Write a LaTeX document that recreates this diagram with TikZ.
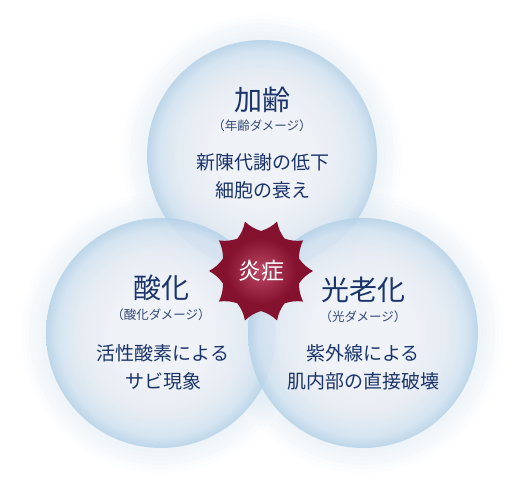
\documentclass[tikz,border=0pt]{standalone}
\usepackage{fontspec}
\usepackage{color}
\newfontfamily\jpfont{Noto Sans CJK JP}
\usetikzlibrary{positioning}
\definecolor{navy}{RGB}{27,52,106}
\definecolor{subnavy}{RGB}{52,74,118}
\definecolor{bubin}{RGB}{240,242,247}
\definecolor{bubmid}{RGB}{229,235,243}
\definecolor{bubrim}{RGB}{210,226,240}
\definecolor{bubout}{RGB}{180,209,231}
\definecolor{glow}{RGB}{196,216,232}
\definecolor{redin}{RGB}{186,72,102}
\definecolor{redout}{RGB}{132,18,46}
\pgfdeclareradialshading{bubble}{\pgfpoint{0bp}{0bp}}{color(0bp)=(bubin); color(11bp)=(bubin); color(18bp)=(bubmid); color(22.5bp)=(bubrim); color(25bp)=(bubout); color(50bp)=(bubout)}
\pgfdeclareradialshading{flare}{\pgfpoint{0bp}{0bp}}{color(0bp)=(redin); color(17bp)=(redout); color(50bp)=(redout)}

\begin{document}
\begin{tikzpicture}[x=1pt,y=-1pt,
    bubblenode/.style={circle,minimum size=230pt,inner sep=0pt,shade,shading=bubble,fill opacity=0.85},
    title/.style={font=\jpfont\fontsize{28}{30}\selectfont,text=navy,inner sep=0pt},
    subtitle/.style={font=\jpfont\fontsize{12.5}{14}\selectfont,text=subnavy,inner sep=0pt},
    body/.style={font=\jpfont\fontsize{19}{28}\selectfont,text=navy,align=center,inner sep=0pt}]
    \useasboundingbox (0,0) rectangle (524,503);
    \foreach \cx/\cy in {262/155,161/333,363/333}
        \foreach \r in {140,136,...,116}
            \fill[glow,opacity=0.05] (\cx,\cy) circle (\r);
    \node[bubblenode] (aging) at (262,155) {};
    \node[bubblenode] (oxid) at (161,333) {};
    \node[bubblenode] (photo) at (363,333) {};
    \begin{scope}[shift={(261,271)}]
        \shade[shading=flare] (0:52) \foreach \k in {0,...,9}{
            to[bend right=12] ({36*\k+18}:40) to[bend right=12] ({36*\k+36}:52)} -- cycle;
    \end{scope}
    \node[font=\jpfont\fontsize{23}{25}\selectfont,text=white,inner sep=0pt] (inflam) at (261,271) {炎症};
    \node[title] (agingtitle) at (262,100) {加齢};
    \node[subtitle] (agingsub) at (262,126) {（年齢ダメージ）};
    \node[body] (agingbody) at (263,176) {新陳代謝の低下\\細胞の衰え};
    \node[title] (oxidtitle) at (161,288) {酸化};
    \node[subtitle] (oxidsub) at (161,315) {（酸化ダメージ）};
    \node[body] (oxidbody) at (163,367) {活性酸素による\\サビ現象};
    \node[title] (phototitle) at (363,290) {光老化};
    \node[subtitle] (photosub) at (363,317) {（光ダメージ）};
    \node[body] (photobody) at (363,367) {紫外線による\\肌内部の直接破壊};
\end{tikzpicture}
\end{document}
